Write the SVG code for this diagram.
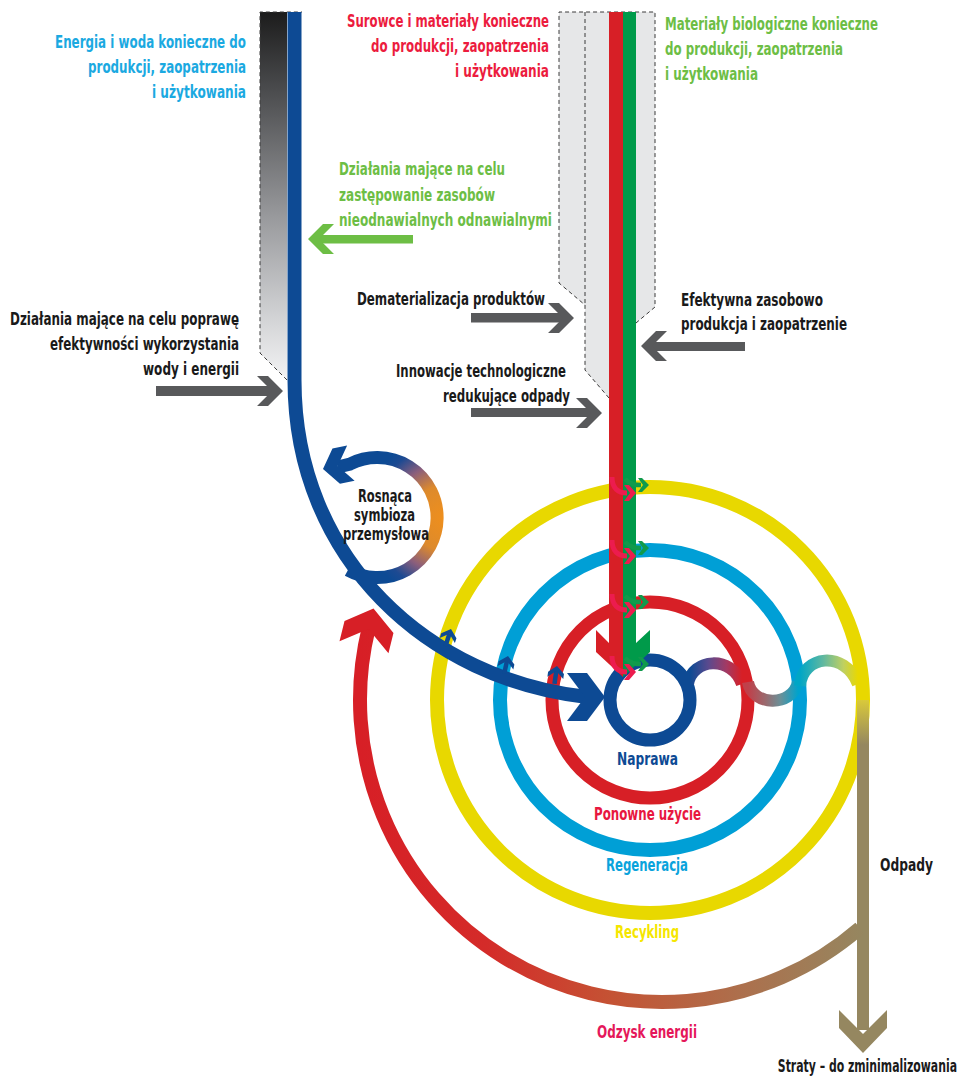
<svg xmlns="http://www.w3.org/2000/svg" xmlns:xlink="http://www.w3.org/1999/xlink" width="966" height="1080" viewBox="0 0 966 1080">
<style>
.t{font-family:"DejaVu Sans Condensed","Liberation Sans Narrow","Liberation Sans",sans-serif;font-weight:bold;font-size:17px}
.k{fill:#1a1a1a}.cy{fill:#1ba9e1}.rd{fill:#ec1c3e}.gn{fill:#6dbe45}
.dash{fill:none;stroke:#3a3a3a;stroke-width:1;stroke-dasharray:4 3}
.gray{fill:#58595b}
.ring{fill:none}
</style>
<defs>
<linearGradient id="gBox" x1="0" y1="0" x2="0" y2="1">
<stop offset="0" stop-color="#1c1c1c"/><stop offset="0.2" stop-color="#48494b"/><stop offset="0.55" stop-color="#97989b"/><stop offset="0.85" stop-color="#d6d7d9"/><stop offset="1" stop-color="#f3f3f4"/>
</linearGradient>
<linearGradient id="gRedArc" gradientUnits="userSpaceOnUse" x1="360" y1="0" x2="865" y2="0">
<stop offset="0" stop-color="#d71f26"/><stop offset="0.25" stop-color="#d42b29"/><stop offset="0.5" stop-color="#c45334"/><stop offset="0.75" stop-color="#ad6f4c"/><stop offset="1" stop-color="#958760"/>
</linearGradient>
<linearGradient id="gBrown" gradientUnits="userSpaceOnUse" x1="0" y1="700" x2="0" y2="745">
<stop offset="0" stop-color="#d9c93a"/><stop offset="1" stop-color="#958760"/>
</linearGradient>
<radialGradient id="gSym" gradientUnits="userSpaceOnUse" cx="445" cy="518" r="82">
<stop offset="0" stop-color="#ef8f1c"/><stop offset="0.4" stop-color="#dd8a2c"/><stop offset="0.66" stop-color="#8a5e7c"/><stop offset="0.88" stop-color="#1d4a92"/><stop offset="1" stop-color="#0d4a94"/>
</radialGradient>
<linearGradient id="gC1" gradientUnits="userSpaceOnUse" x1="690" y1="0" x2="742" y2="0">
<stop offset="0" stop-color="#0d4a94"/><stop offset="0.35" stop-color="#5a4a8e"/><stop offset="0.7" stop-color="#a23a64"/><stop offset="1" stop-color="#d71f26"/>
</linearGradient>
<linearGradient id="gC2" gradientUnits="userSpaceOnUse" x1="748" y1="0" x2="798" y2="0">
<stop offset="0" stop-color="#c0404a"/><stop offset="0.35" stop-color="#9a6a6e"/><stop offset="0.65" stop-color="#6a9098"/><stop offset="1" stop-color="#00a3cc"/>
</linearGradient>
<linearGradient id="gC3" gradientUnits="userSpaceOnUse" x1="800" y1="0" x2="858" y2="0">
<stop offset="0" stop-color="#00a6c6"/><stop offset="0.4" stop-color="#60b8a0"/><stop offset="0.75" stop-color="#c0d060"/><stop offset="1" stop-color="#e8d800"/>
</linearGradient>
<path id="chevG" d="M-26,-15 L-15,-15 L0,0 L-15,15 L-26,15 L-11,0 Z"/>
<path id="chevB" d="M-38,-24 L-18,-24 L0,0 L-18,24 L-38,24 L-20,0 Z"/>
<path id="chevS" d="M-12,-8 L-7,-8 L0,0 L-7,8 L-12,8 L-5,0 Z"/>
<g id="pinkArr"><path d="M-11,-12 C-11,-1 -5,4 4,4" fill="none" stroke="#ec1c4e" stroke-width="5"/><path d="M1,-4 L6,-4 L13,4 L6,12 L1,12 L7,4 Z" fill="#ec1c4e"/></g>
<g id="greenArr"><path d="M2,-10 C8,-4 13,-4 18,-4" fill="none" stroke="#109a4c" stroke-width="4.5"/><path d="M15,-11 L19,-11 L26,-4 L19,3 L15,3 L20,-4 Z" fill="#109a4c"/></g>
<g id="blueSmall"><path d="M-18,0 L-5,0" stroke="#0d4a94" stroke-width="4.5"/><use xlink:href="#chevS" fill="#0d4a94"/></g>
</defs>

<rect width="966" height="1080" fill="#ffffff"/>

<g id="input-energy-box">
<path d="M287,380 L260,353 L260,12 L287,12 Z" fill="url(#gBox)"/>
<path class="dash" d="M287,380 L260,353 L260,12 L302,12"/>
</g>
<g id="input-materials-box">
<path d="M559,12 L559,283 L585,305 L585,370 L609,398 L609,12 Z" fill="#e6e7e8"/>
<path d="M636,12 L655,12 L655,307 L636,323 Z" fill="#e6e7e8"/>
<path class="dash" d="M609,398 L585,370 L585,305 L559,283 L559,12 L655,12 L655,307 L636,323"/>
<path class="dash" d="M585,12 L585,305"/>
</g>

<g id="ring-recykling">
<circle class="ring" cx="650" cy="700" r="213" stroke="#e8d800" stroke-width="14"/>
<text class="t" x="615" y="938" textLength="64" lengthAdjust="spacingAndGlyphs" fill="#f5e600">Recykling</text>
</g>
<g id="ring-regeneracja">
<circle class="ring" cx="650" cy="700" r="150" stroke="#009fd6" stroke-width="14"/>
<text class="t" x="606" y="871" textLength="82" lengthAdjust="spacingAndGlyphs" fill="#0aa3dc">Regeneracja</text>
</g>
<g id="ring-ponowne-uzycie">
<circle class="ring" cx="650" cy="700" r="98" stroke="#d71f26" stroke-width="13"/>
<text class="t" x="594" y="820" textLength="107" lengthAdjust="spacingAndGlyphs" fill="#e8173f">Ponowne użycie</text>
</g>
<g id="ring-naprawa">
<circle class="ring" cx="650" cy="700" r="40" stroke="#0d4a94" stroke-width="13"/>
<text class="t" x="617" y="765" textLength="61" lengthAdjust="spacingAndGlyphs" fill="#0d4a94">Naprawa</text>
</g>

<g id="connectors">
<path d="M688,684 C692,658 732,655 742,684" fill="none" stroke="url(#gC1)" stroke-width="12"/>
<path d="M748,682 C752,706 792,708 798,682" fill="none" stroke="url(#gC2)" stroke-width="12"/>
<path d="M800,686 C802,655 845,650 858,684" fill="none" stroke="url(#gC3)" stroke-width="12"/>
<path d="M863,700 L863,1030" fill="none" stroke="url(#gBrown)" stroke-width="12"/>
<polygon points="839,1010 863,1034 887,1010 887,1028 863,1053 839,1028" fill="#958760"/>
<path d="M368.7,628 A302 302 0 0 0 860,928" fill="none" stroke="url(#gRedArc)" stroke-width="14"/>
<use xlink:href="#chevB" fill="#d71f26" transform="translate(373.5,608.6) rotate(-76.2) scale(1.05)"/>
<polygon points="609,12 623,12 623,677 596,652 596,630 609,643" fill="#d71f26"/>
<polygon points="623,12 636,12 636,643 650,630 650,652 623,677" fill="#009a4a"/>
<use xlink:href="#pinkArr" transform="translate(623,489)"/>
<use xlink:href="#greenArr" transform="translate(623,489)"/>
<use xlink:href="#pinkArr" transform="translate(623,552)"/>
<use xlink:href="#greenArr" transform="translate(623,552)"/>
<use xlink:href="#pinkArr" transform="translate(623,606)"/>
<use xlink:href="#greenArr" transform="translate(623,606)"/>
<use xlink:href="#pinkArr" transform="translate(623,668)"/>
<use xlink:href="#greenArr" transform="translate(623,668)"/>
<path d="M294.5,12 L294.5,380 C294.5,560 430,680 587,697" fill="none" stroke="#0d4a94" stroke-width="14"/>
<use xlink:href="#chevB" fill="#0d4a94" transform="translate(605,697)"/>
<path d="M348,570 A60 60 0 1 0 350,464 L338,467" fill="none" stroke="url(#gSym)" stroke-width="13"/>
<use xlink:href="#chevB" fill="#0d4a94" transform="translate(323,469) rotate(168) scale(0.75)"/>
<use xlink:href="#blueSmall" transform="translate(451,629) rotate(-72)"/>
<use xlink:href="#blueSmall" transform="translate(508,656) rotate(-78)"/>
<use xlink:href="#blueSmall" transform="translate(557,666) rotate(-82)"/>
<rect class="gray" x="156" y="386" width="116" height="10"/>
<use xlink:href="#chevG" class="gray" transform="translate(283,391)"/>
<rect class="gray" x="471" y="313" width="92" height="9.5"/>
<use xlink:href="#chevG" class="gray" transform="translate(574,318)"/>
<rect class="gray" x="471" y="408" width="120" height="9"/>
<use xlink:href="#chevG" class="gray" transform="translate(602,413)"/>
<rect class="gray" x="652" y="342" width="93" height="9"/>
<use xlink:href="#chevG" class="gray" transform="translate(641,346) scale(-1,1)"/>
<rect x="319" y="235" width="94" height="8.5" fill="#6dbe45"/>
<use xlink:href="#chevG" fill="#6dbe45" transform="translate(308,239) scale(-1,1)"/>
</g>

<g id="label-energia">
<text class="t cy" x="55" y="48" textLength="191" lengthAdjust="spacingAndGlyphs">Energia i woda konieczne do</text>
<text class="t cy" x="88" y="73" textLength="158" lengthAdjust="spacingAndGlyphs">produkcji, zaopatrzenia</text>
<text class="t cy" x="152" y="98" textLength="94" lengthAdjust="spacingAndGlyphs">i użytkowania</text>
</g>
<g id="label-efektywnosc-wody">
<text class="t k" x="10" y="325" textLength="229" lengthAdjust="spacingAndGlyphs">Działania mające na celu poprawę</text>
<text class="t k" x="50" y="350" textLength="189" lengthAdjust="spacingAndGlyphs">efektywności wykorzystania</text>
<text class="t k" x="143" y="375" textLength="96" lengthAdjust="spacingAndGlyphs">wody i energii</text>
</g>
<g id="label-surowce">
<text class="t rd" x="347" y="27" textLength="202" lengthAdjust="spacingAndGlyphs">Surowce i materiały konieczne</text>
<text class="t rd" x="371" y="52" textLength="178" lengthAdjust="spacingAndGlyphs">do produkcji, zaopatrzenia</text>
<text class="t rd" x="455" y="77" textLength="94" lengthAdjust="spacingAndGlyphs">i użytkowania</text>
</g>
<g id="label-zastepowanie">
<text class="t gn" x="339" y="175" textLength="166" lengthAdjust="spacingAndGlyphs">Działania mające na celu</text>
<text class="t gn" x="339" y="201" textLength="156" lengthAdjust="spacingAndGlyphs">zastępowanie zasobów</text>
<text class="t gn" x="339" y="226" textLength="213" lengthAdjust="spacingAndGlyphs">nieodnawialnych odnawialnymi</text>
</g>
<g id="label-dematerializacja">
<text class="t k" x="357" y="305" textLength="188" lengthAdjust="spacingAndGlyphs">Dematerializacja produktów</text>
</g>
<g id="label-innowacje">
<text class="t k" x="396" y="377" textLength="170" lengthAdjust="spacingAndGlyphs">Innowacje technologiczne</text>
<text class="t k" x="443" y="402" textLength="127" lengthAdjust="spacingAndGlyphs">redukujące odpady</text>
</g>
<g id="label-biologiczne">
<text class="t gn" x="665" y="30" textLength="213" lengthAdjust="spacingAndGlyphs">Materiały biologiczne konieczne</text>
<text class="t gn" x="665" y="55" textLength="178" lengthAdjust="spacingAndGlyphs">do produkcji, zaopatrzenia</text>
<text class="t gn" x="665" y="80" textLength="93" lengthAdjust="spacingAndGlyphs">i użytkowania</text>
</g>
<g id="label-efektywna">
<text class="t k" x="681" y="306" textLength="142" lengthAdjust="spacingAndGlyphs">Efektywna zasobowo</text>
<text class="t k" x="681" y="330" textLength="166" lengthAdjust="spacingAndGlyphs">produkcja i zaopatrzenie</text>
</g>
<g id="label-symbioza">
<text class="t k" x="358" y="502" textLength="54" lengthAdjust="spacingAndGlyphs">Rosnąca</text>
<text class="t k" x="354" y="521" textLength="61" lengthAdjust="spacingAndGlyphs">symbioza</text>
<text class="t k" x="343" y="540" textLength="86" lengthAdjust="spacingAndGlyphs">przemysłowa</text>
</g>
<g id="label-odzysk">
<text class="t" x="597" y="1038" textLength="100" lengthAdjust="spacingAndGlyphs" fill="#e5175a">Odzysk energii</text>
</g>
<g id="label-odpady">
<text class="t k" x="880" y="871" textLength="53" lengthAdjust="spacingAndGlyphs">Odpady</text>
</g>
<g id="label-straty">
<text class="t k" transform="translate(957,1072) scale(0.7,1)" x="0" y="0" text-anchor="end" textLength="256" lengthAdjust="spacingAndGlyphs">Straty – do zminimalizowania</text>
</g>
</svg>
